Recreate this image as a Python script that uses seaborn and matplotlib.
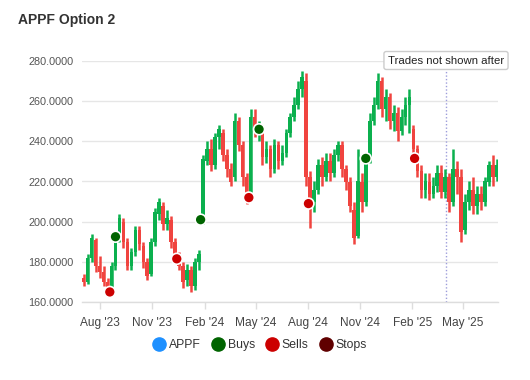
import matplotlib
matplotlib.use("Agg")
import numpy as np
import pandas as pd
import matplotlib.pyplot as plt
import matplotlib.dates as mdates
import seaborn as sns

# weekly candles (week starting dates)
week_start = "2023-07-03"
opens = [172, 170, 182, 191, 178, 175, 170, 167, 178, 193, 200, 190, 178, 185, 196, 188, 180, 174, 190, 204,
         208, 199, 201, 190, 182, 178, 171, 176, 168, 180, 200, 230, 236, 228, 242, 244, 233, 226, 222, 250,
         238, 222, 213, 252, 245, 246, 232, 236, 226, 238, 230, 234, 244, 252, 258, 266, 270, 222, 210, 216,
         228, 222, 230, 224, 233, 238, 226, 220, 206, 193, 220, 210, 231, 250, 258, 270, 256, 262, 250, 254,
         245, 252, 258, 246, 236, 225, 216, 220, 214, 218, 224, 215, 222, 210, 226, 222, 196, 210, 216, 208,
         214, 210, 220, 228, 222]
closes = [170, 182, 192, 178, 175, 170, 166, 178, 192, 202, 190, 178, 185, 196, 189, 180, 173, 190, 205, 210,
          199, 202, 190, 183, 178, 170, 176, 168, 180, 184, 231, 236, 228, 242, 246, 233, 226, 220, 250, 238,
          222, 212, 252, 245, 246, 232, 236, 226, 238, 230, 234, 244, 252, 258, 266, 272, 222, 210, 216, 228,
          222, 230, 224, 233, 238, 226, 220, 208, 192, 220, 210, 231, 250, 258, 270, 256, 262, 250, 254, 245,
          252, 258, 262, 236, 225, 216, 220, 214, 218, 224, 215, 222, 210, 226, 222, 195, 210, 216, 208, 214,
          210, 220, 228, 222, 228]
highs = [174, 184, 194, 192, 183, 178, 172, 180, 194, 204, 202, 192, 187, 198, 198, 190, 182, 192, 207, 212,
         210, 206, 203, 192, 185, 180, 179, 178, 182, 186, 233, 240, 241, 244, 248, 246, 236, 229, 254, 252,
         240, 224, 256, 256, 250, 248, 240, 238, 241, 240, 238, 246, 254, 262, 270, 275, 274, 225, 220, 231,
         232, 234, 234, 236, 240, 240, 228, 222, 210, 236, 224, 234, 254, 262, 274, 272, 266, 264, 258, 257,
         256, 262, 266, 248, 238, 228, 224, 224, 222, 228, 228, 226, 224, 236, 230, 226, 214, 220, 222, 218,
         218, 222, 230, 233, 231]
lows = [168, 169, 180, 175, 172, 168, 163, 165, 176, 190, 187, 176, 176, 183, 186, 177, 171, 173, 188, 201,
        196, 196, 187, 180, 176, 167, 168, 165, 166, 176, 199, 228, 225, 226, 236, 230, 222, 218, 220, 235,
        218, 209, 211, 242, 240, 228, 229, 222, 224, 226, 228, 232, 242, 250, 256, 262, 218, 197, 205, 214,
        218, 220, 220, 222, 230, 222, 216, 205, 189, 192, 205, 208, 229, 248, 256, 252, 250, 246, 245, 240,
        243, 248, 244, 230, 222, 212, 212, 211, 212, 215, 212, 212, 205, 208, 214, 190, 194, 206, 204, 204,
        206, 208, 218, 218, 220]

buy_dates = ["2023-08-28", "2024-01-25", "2024-05-07", "2024-11-11"]
buy_prices = [192.5, 201.0, 246.0, 231.5]
sell_dates = ["2023-08-18", "2023-12-14", "2024-04-19", "2024-08-02", "2025-02-05"]
sell_prices = [165.0, 181.5, 212.0, 209.0, 231.5]

cutoff_date = "2025-04-01"
x_ticks = ["2023-08-01", "2023-11-01", "2024-02-01", "2024-05-01",
           "2024-08-01", "2024-11-01", "2025-02-01", "2025-05-01"]
x_tick_labels = ["Aug '23", "Nov '23", "Feb '24", "May '24",
                 "Aug '24", "Nov '24", "Feb '25", "May '25"]
y_ticks = [160, 180, 200, 220, 240, 260, 280]

UP = "#0bb04e"
DOWN = "#f0443f"
BUY = "#006400"
SELL = "#cc0000"
STOP = "#600000"
LINE = "#1e90ff"


def main():
    sns.set_theme(style="whitegrid")
    plt.rcParams["font.family"] = ["Liberation Sans", "DejaVu Sans"]

    dates = pd.date_range(week_start, periods=len(opens), freq="7D")
    df = pd.DataFrame({"date": dates, "open": opens, "close": closes,
                       "high": highs, "low": lows})
    df["x"] = mdates.date2num(df["date"])
    df["up"] = df["close"] >= df["open"]
    colors = np.where(df["up"], UP, DOWN)

    fig = plt.figure(figsize=(5.3, 3.8), dpi=100)
    ax = fig.add_axes([82 / 530, 78 / 380, 416 / 530, 241 / 380])

    # candles: wick + body
    ax.vlines(df["x"], df["low"], df["high"], colors=colors, linewidth=1.8, zorder=2)
    ax.bar(df["x"], df["close"] - df["open"], bottom=df["open"], width=6.3,
           color=colors, linewidth=0, zorder=3)

    trades = pd.DataFrame({
        "x": mdates.date2num(pd.to_datetime(buy_dates + sell_dates)),
        "price": buy_prices + sell_prices,
        "kind": ["Buys"] * len(buy_dates) + ["Sells"] * len(sell_dates),
    })
    sns.scatterplot(data=trades, x="x", y="price", hue="kind",
                    palette={"Buys": BUY, "Sells": SELL}, s=62,
                    edgecolor="white", linewidth=1.2, legend=False, ax=ax, zorder=5)

    # cut-off line and label
    cx = mdates.date2num(pd.Timestamp(cutoff_date))
    ax.axvline(cx, color="#9d9ddb", linestyle=(0, (1, 1.5)), linewidth=1.0, zorder=1)
    fig.text(446 / 530, 1 - 60.5 / 380, "Trades not shown after", ha="center", va="center",
             fontsize=8.2, color="#222222",
             bbox=dict(boxstyle="round,pad=0.35,rounding_size=0.2", fc="white",
                       ec="#cccccc", lw=1.0))

    ax.set_xlim(mdates.date2num(pd.Timestamp("2023-06-30")),
                mdates.date2num(pd.Timestamp("2025-07-02")))
    ax.set_ylim(160, 280)
    ax.set_yticks(y_ticks)
    ax.set_yticklabels([f"{v:.4f}" for v in y_ticks], fontsize=7.8, color="#555555")
    ax.set_xticks(mdates.date2num(pd.to_datetime(x_ticks)))
    ax.set_xticklabels(x_tick_labels, fontsize=8.6, color="#444444")
    ax.set_xlabel("")
    ax.set_ylabel("")

    ax.grid(axis="y", color="#e6e6e6", linewidth=1.0)
    ax.grid(axis="x", visible=False)
    for side in ["left", "right", "top"]:
        ax.spines[side].set_visible(False)
    ax.spines["bottom"].set_color("#dddddd")
    ax.spines["bottom"].set_linewidth(1.0)
    ax.tick_params(axis="x", length=5, width=1, color="#dddddd", pad=6, bottom=True)
    ax.tick_params(axis="y", length=0, pad=6)
    ax.set_facecolor("white")

    fig.text(18 / 530, 1 - 20 / 380, "APPF Option 2", fontsize=10, fontweight="bold",
             color="#333333", ha="left", va="center")

    # legend
    handles = [plt.Line2D([], [], marker="o", linestyle="", markersize=9.5,
                          markerfacecolor=c, markeredgecolor=c, label=l)
               for c, l in [(LINE, "APPF"), (BUY, "Buys"), (SELL, "Sells"), (STOP, "Stops")]]
    fig.legend(handles=handles, loc="center", bbox_to_anchor=(259 / 530, 1 - 345 / 380),
               ncol=4, frameon=False, fontsize=8.8, handletextpad=0.15, handlelength=1.3,
               columnspacing=0.75, labelcolor="#333333")

    fig.savefig("out.png", dpi=100, facecolor="white")
    plt.close(fig)


if __name__ == "__main__":
    main()
